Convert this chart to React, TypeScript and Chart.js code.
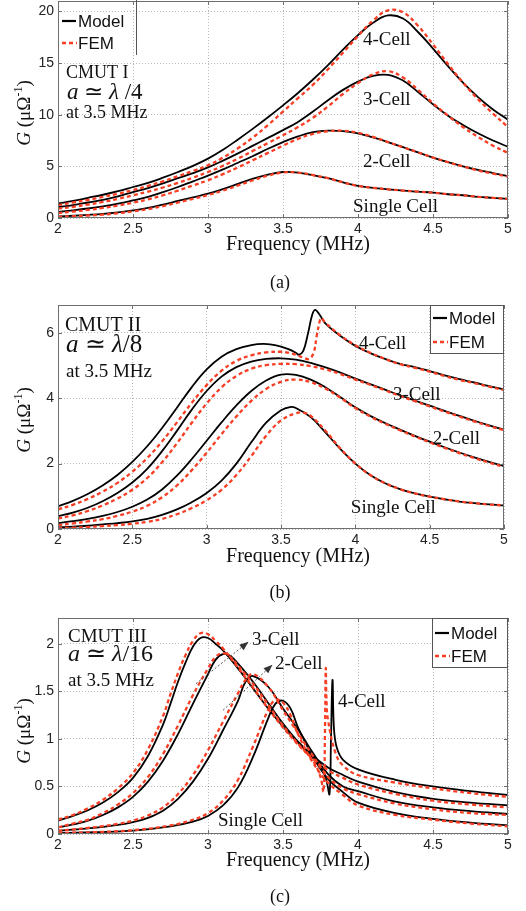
import React, { useEffect, useRef } from "react";
import { Chart, registerables } from "chart.js";
Chart.register(...registerables);

// ---------------- DATA ----------------
const xTickValues = [2, 2.5, 3, 3.5, 4, 4.5, 5];
const yTicksA = [0, 5, 10, 15, 20];
const yTicksB = [0, 2, 4, 6];
const yTicksC = [0, 0.5, 1, 1.5, 2];

// Panel (a) - CMUT I (shared frequency grid, MHz)
const freqA = [2.0, 2.1, 2.2, 2.3, 2.4, 2.5, 2.6, 2.7, 2.8, 2.9, 3.0, 3.1, 3.2, 3.3, 3.4, 3.5, 3.6, 3.7, 3.8, 3.9, 4.0, 4.1, 4.2, 4.3, 4.4, 4.5, 4.6, 4.7, 4.8, 4.9, 5.0];
const gA4Model = [1.4, 1.65, 1.95, 2.25, 2.6, 3.0, 3.4, 3.9, 4.45, 5.05, 5.75, 6.6, 7.6, 8.65, 9.75, 10.9, 12.1, 13.4, 14.8, 16.3, 17.7, 18.9, 19.6, 19.3, 18.0, 16.4, 14.7, 13.1, 11.7, 10.5, 9.5];
const gA4Fem = [1.25, 1.5, 1.75, 2.05, 2.35, 2.7, 3.1, 3.55, 4.05, 4.55, 5.1, 5.85, 6.75, 7.8, 9.0, 10.3, 11.6, 12.9, 14.4, 16.0, 17.6, 19.1, 20.1, 19.9, 18.6, 16.8, 14.9, 13.1, 11.5, 10.1, 8.8];
const gA3Model = [1.05, 1.25, 1.5, 1.75, 2.1, 2.5, 2.9, 3.35, 3.85, 4.35, 4.9, 5.55, 6.25, 7.0, 7.75, 8.5, 9.3, 10.3, 11.4, 12.4, 13.2, 13.75, 13.85, 13.3, 12.2, 11.0, 9.9, 9.0, 8.2, 7.5, 6.9];
const gA3Fem = [0.9, 1.08, 1.3, 1.55, 1.85, 2.2, 2.55, 2.95, 3.4, 3.9, 4.45, 5.05, 5.75, 6.5, 7.25, 8.0, 8.8, 9.7, 10.8, 12.0, 13.05, 13.9, 14.2, 13.6, 12.4, 11.1, 9.9, 8.8, 7.85, 7.0, 6.3];
const gA2Model = [0.58, 0.74, 0.92, 1.13, 1.38, 1.7, 2.05, 2.5, 3.0, 3.55, 4.1, 4.7, 5.35, 6.0, 6.7, 7.35, 7.9, 8.3, 8.45, 8.4, 8.2, 7.8, 7.35, 6.85, 6.35, 5.85, 5.4, 5.0, 4.65, 4.35, 4.05];
const gA2Fem = [0.48, 0.62, 0.78, 0.97, 1.2, 1.48, 1.8, 2.2, 2.65, 3.15, 3.65, 4.25, 4.9, 5.6, 6.3, 7.0, 7.65, 8.15, 8.4, 8.45, 8.25, 7.85, 7.35, 6.85, 6.35, 5.85, 5.4, 5.0, 4.6, 4.3, 4.0];
const gA1Model = [0.16, 0.22, 0.3, 0.4, 0.55, 0.74, 0.98, 1.3, 1.65, 2.0, 2.35, 2.8, 3.3, 3.8, 4.2, 4.45, 4.4, 4.15, 3.85, 3.45, 3.1, 2.92, 2.78, 2.65, 2.55, 2.45, 2.3, 2.2, 2.05, 1.95, 1.85];
const gA1Fem = [0.12, 0.17, 0.24, 0.33, 0.46, 0.63, 0.86, 1.15, 1.5, 1.86, 2.22, 2.65, 3.15, 3.65, 4.1, 4.4, 4.4, 4.15, 3.85, 3.45, 3.1, 2.92, 2.78, 2.65, 2.55, 2.45, 2.3, 2.2, 2.05, 1.95, 1.85];

// Panel (b) - CMUT II
const freqB = [2.0, 2.1, 2.2, 2.3, 2.4, 2.5, 2.6, 2.7, 2.8, 2.9, 3.0, 3.1, 3.2, 3.3, 3.4, 3.5, 3.6, 3.7, 3.8, 3.9, 4.0, 4.1, 4.2, 4.3, 4.4, 4.5, 4.6, 4.7, 4.8, 4.9, 5.0];
const freqB4Model = [2.0, 2.1, 2.2, 2.3, 2.4, 2.5, 2.6, 2.7, 2.8, 2.9, 3.0, 3.1, 3.2, 3.3, 3.38, 3.45, 3.5, 3.55, 3.6, 3.62, 3.65, 3.68, 3.71, 3.73, 3.76, 3.8, 3.9, 4.0, 4.1, 4.2, 4.3, 4.4, 4.5, 4.6, 4.7, 4.8, 4.9, 5.0];
const gB4Model = [0.69, 0.86, 1.07, 1.33, 1.65, 2.05, 2.53, 3.09, 3.71, 4.34, 4.88, 5.27, 5.5, 5.62, 5.66, 5.63, 5.58, 5.5, 5.39, 5.33, 5.45, 5.95, 6.55, 6.7, 6.55, 6.28, 5.9, 5.6, 5.38, 5.2, 5.05, 4.95, 4.83, 4.7, 4.58, 4.48, 4.37, 4.27];
const freqB4Fem = [2.0, 2.1, 2.2, 2.3, 2.4, 2.5, 2.6, 2.7, 2.8, 2.9, 3.0, 3.1, 3.2, 3.3, 3.4, 3.5, 3.55, 3.6, 3.65, 3.69, 3.72, 3.74, 3.76, 3.77, 3.8, 3.9, 4.0, 4.1, 4.2, 4.3, 4.4, 4.5, 4.6, 4.7, 4.8, 4.9, 5.0];
const gB4Fem = [0.6, 0.74, 0.92, 1.14, 1.41, 1.75, 2.17, 2.68, 3.26, 3.86, 4.4, 4.84, 5.14, 5.31, 5.4, 5.42, 5.39, 5.33, 5.24, 5.2, 5.4, 5.9, 6.35, 6.45, 6.3, 5.92, 5.62, 5.39, 5.2, 5.04, 4.93, 4.81, 4.68, 4.56, 4.46, 4.35, 4.25];
const gB3Model = [0.39, 0.5, 0.65, 0.85, 1.1, 1.42, 1.84, 2.38, 3.0, 3.65, 4.22, 4.66, 4.95, 5.12, 5.2, 5.22, 5.18, 5.08, 4.94, 4.78, 4.6, 4.43, 4.26, 4.09, 3.93, 3.77, 3.61, 3.46, 3.31, 3.17, 3.04];
const gB3Fem = [0.32, 0.42, 0.55, 0.72, 0.93, 1.2, 1.56, 2.04, 2.62, 3.25, 3.84, 4.33, 4.68, 4.9, 5.01, 5.05, 5.04, 4.98, 4.88, 4.74, 4.57, 4.41, 4.24, 4.07, 3.91, 3.75, 3.59, 3.44, 3.29, 3.15, 3.02];
const gB2Model = [0.18, 0.24, 0.31, 0.4, 0.52, 0.68, 0.9, 1.21, 1.63, 2.14, 2.7, 3.26, 3.78, 4.22, 4.54, 4.72, 4.71, 4.57, 4.33, 4.03, 3.72, 3.46, 3.24, 3.04, 2.85, 2.67, 2.5, 2.34, 2.19, 2.05, 1.92];
const gB2Fem = [0.12, 0.17, 0.23, 0.3, 0.4, 0.53, 0.71, 0.97, 1.33, 1.8, 2.33, 2.9, 3.44, 3.92, 4.28, 4.5, 4.57, 4.49, 4.29, 4.01, 3.7, 3.44, 3.22, 3.02, 2.83, 2.65, 2.48, 2.32, 2.17, 2.03, 1.9];
const freqB1Model = [2.0, 2.1, 2.2, 2.3, 2.4, 2.5, 2.6, 2.7, 2.8, 2.9, 3.0, 3.1, 3.2, 3.3, 3.4, 3.5, 3.56, 3.6, 3.7, 3.8, 3.9, 4.0, 4.1, 4.2, 4.3, 4.4, 4.5, 4.6, 4.7, 4.8, 4.9, 5.0];
const gB1Model = [0.05, 0.07, 0.1, 0.14, 0.18, 0.23, 0.31, 0.43, 0.6, 0.82, 1.1, 1.48, 2.0, 2.65, 3.25, 3.63, 3.73, 3.7, 3.42, 2.95, 2.44, 2.0, 1.65, 1.4, 1.22, 1.09, 0.99, 0.91, 0.84, 0.79, 0.75, 0.72];
const freqB1Fem = [2.0, 2.1, 2.2, 2.3, 2.4, 2.5, 2.6, 2.7, 2.8, 2.9, 3.0, 3.1, 3.2, 3.3, 3.4, 3.5, 3.6, 3.65, 3.7, 3.8, 3.9, 4.0, 4.1, 4.2, 4.3, 4.4, 4.5, 4.6, 4.7, 4.8, 4.9, 5.0];
const gB1Fem = [0.02, 0.04, 0.06, 0.09, 0.12, 0.16, 0.22, 0.31, 0.45, 0.64, 0.88, 1.2, 1.65, 2.23, 2.85, 3.32, 3.54, 3.56, 3.46, 3.0, 2.46, 2.0, 1.65, 1.4, 1.22, 1.09, 0.99, 0.91, 0.84, 0.79, 0.75, 0.72];

// Panel (c) - CMUT III
const freqC4Model = [2.0, 2.1, 2.2, 2.3, 2.4, 2.5, 2.6, 2.7, 2.75, 2.8, 2.85, 2.9, 2.95, 3.0, 3.05, 3.1, 3.2, 3.3, 3.4, 3.5, 3.6, 3.7, 3.76, 3.79, 3.81, 3.82, 3.83, 3.84, 3.86, 3.9, 4.0, 4.25, 4.5, 4.75, 5.0];
const gC4Model = [0.14, 0.19, 0.25, 0.33, 0.44, 0.59, 0.82, 1.15, 1.37, 1.6, 1.8, 1.97, 2.06, 2.06, 2.0, 1.93, 1.74, 1.53, 1.32, 1.13, 0.96, 0.8, 0.68, 0.56, 0.42, 1.0, 1.62, 1.1, 0.9, 0.78, 0.68, 0.57, 0.5, 0.45, 0.41];
const freqC4Fem = [2.0, 2.1, 2.2, 2.3, 2.4, 2.5, 2.6, 2.7, 2.75, 2.8, 2.85, 2.9, 2.95, 3.0, 3.05, 3.1, 3.2, 3.3, 3.4, 3.5, 3.6, 3.7, 3.75, 3.77, 3.78, 3.785, 3.79, 3.8, 3.85, 3.9, 4.0, 4.25, 4.5, 4.75, 5.0];
const gC4Fem = [0.15, 0.2, 0.27, 0.36, 0.48, 0.64, 0.89, 1.24, 1.47, 1.69, 1.88, 2.03, 2.11, 2.1, 2.03, 1.95, 1.75, 1.54, 1.32, 1.12, 0.94, 0.77, 0.6, 0.45, 1.1, 1.74, 1.4, 1.2, 0.85, 0.72, 0.62, 0.54, 0.48, 0.43, 0.39];
const freqC3 = [2.0, 2.1, 2.2, 2.3, 2.4, 2.5, 2.6, 2.7, 2.8, 2.9, 3.0, 3.05, 3.1, 3.15, 3.2, 3.3, 3.4, 3.5, 3.6, 3.7, 3.8, 3.9, 4.0, 4.25, 4.5, 4.75, 5.0];
const gC3Model = [0.07, 0.1, 0.14, 0.2, 0.28, 0.39, 0.55, 0.77, 1.05, 1.37, 1.68, 1.83, 1.89, 1.87, 1.79, 1.6, 1.38, 1.16, 0.97, 0.82, 0.7, 0.62, 0.55, 0.44, 0.37, 0.33, 0.3];
const gC3Fem = [0.07, 0.11, 0.15, 0.22, 0.31, 0.43, 0.6, 0.84, 1.14, 1.46, 1.74, 1.86, 1.9, 1.86, 1.77, 1.58, 1.36, 1.14, 0.95, 0.79, 0.67, 0.59, 0.52, 0.42, 0.35, 0.31, 0.28];
const freqC2 = [2.0, 2.1, 2.2, 2.3, 2.4, 2.5, 2.6, 2.7, 2.8, 2.9, 3.0, 3.1, 3.2, 3.25, 3.3, 3.4, 3.5, 3.6, 3.7, 3.8, 3.9, 4.0, 4.25, 4.5, 4.75, 5.0];
const gC2Model = [0.035, 0.045, 0.06, 0.075, 0.095, 0.125, 0.17, 0.245, 0.37, 0.55, 0.79, 1.09, 1.4, 1.6, 1.66, 1.55, 1.32, 1.1, 0.85, 0.63, 0.5, 0.45, 0.34, 0.28, 0.24, 0.21];
const gC2Fem = [0.035, 0.048, 0.064, 0.083, 0.107, 0.14, 0.195, 0.28, 0.42, 0.62, 0.88, 1.18, 1.48, 1.62, 1.68, 1.55, 1.3, 1.06, 0.82, 0.6, 0.48, 0.42, 0.32, 0.26, 0.22, 0.2];
const freqC1 = [2.0, 2.25, 2.5, 2.75, 2.9, 3.0, 3.1, 3.2, 3.3, 3.4, 3.45, 3.5, 3.55, 3.6, 3.7, 3.8, 3.9, 4.0, 4.25, 4.5, 4.75, 5.0];
const gC1Model = [0.01, 0.02, 0.035, 0.08, 0.13, 0.19, 0.3, 0.49, 0.81, 1.21, 1.37, 1.4, 1.32, 1.12, 0.81, 0.58, 0.44, 0.33, 0.22, 0.16, 0.12, 0.09];
const gC1Fem = [0.01, 0.02, 0.04, 0.09, 0.15, 0.22, 0.35, 0.57, 0.92, 1.3, 1.41, 1.38, 1.25, 1.05, 0.75, 0.54, 0.41, 0.3, 0.2, 0.15, 0.11, 0.08];

// ---------------- STYLE / LAYOUT ----------------
const SANS = '"Liberation Sans", Arial, sans-serif';
const SERIF = '"Liberation Serif", "Times New Roman", serif';
const RED = "rgb(248,62,36)";
const W = 526;

type Curve = { f: number[]; g: number[]; fem: boolean };
type Part = [string, boolean];
type Info = { parts: Part[]; x: number; y: number; size: number };
type Label = { text: string; x: number; y: number };
type Arrow = { from: [number, number]; to: [number, number] };
type Panel = {
  top: number; height: number;
  area: { left: number; right: number; top: number; bottom: number };
  yMax: number; yTicks: number[]; curves: Curve[];
  info: Info[]; labels: Label[]; arrows: Arrow[];
  legend: { kind: "open" | "box"; x0: number; y0: number; x1: number; y1: number; row1: number; row2: number; lx: number };
  xTitleY: number; captionY: number; caption: string; yTitleY: number;
};

const mk = (f: number[], g: number[], fem: boolean): Curve => ({ f, g, fem });

const panels: Panel[] = [
  {
    top: 0, height: 300,
    area: { left: 58, right: 508, top: 1, bottom: 218 },
    yMax: 21, yTicks: yTicksA,
    curves: [
      mk(freqA, gA4Model, false), mk(freqA, gA4Fem, true),
      mk(freqA, gA3Model, false), mk(freqA, gA3Fem, true),
      mk(freqA, gA2Model, false), mk(freqA, gA2Fem, true),
      mk(freqA, gA1Model, false), mk(freqA, gA1Fem, true),
    ],
    info: [
      { parts: [["CMUT I", false]], x: 66, y: 78, size: 18 },
      { parts: [["a", true], [" ≃ ", false], ["λ", true], [" /4", false]], x: 67, y: 99, size: 23 },
      { parts: [["at 3.5 MHz", false]], x: 66, y: 118, size: 18 },
    ],
    labels: [
      { text: "4-Cell", x: 4.033, y: 16.7 },
      { text: "3-Cell", x: 4.033, y: 10.9 },
      { text: "2-Cell", x: 4.033, y: 4.93 },
      { text: "Single Cell", x: 3.967, y: 0.6 },
    ],
    arrows: [],
    legend: { kind: "open", x0: 58, y0: 0, x1: 136, y1: 55, row1: 21, row2: 43, lx: 62 },
    xTitleY: 245, captionY: 283, caption: "(a)", yTitleY: 113,
  },
  {
    top: 300, height: 310,
    area: { left: 58, right: 504, top: 305, bottom: 529 },
    yMax: 6.85, yTicks: yTicksB,
    curves: [
      mk(freqB4Model, gB4Model, false), mk(freqB4Fem, gB4Fem, true),
      mk(freqB, gB3Model, false), mk(freqB, gB3Fem, true),
      mk(freqB, gB2Model, false), mk(freqB, gB2Fem, true),
      mk(freqB1Model, gB1Model, false), mk(freqB1Fem, gB1Fem, true),
    ],
    info: [
      { parts: [["CMUT II", false]], x: 65, y: 331, size: 20 },
      { parts: [["a", true], [" ≃ ", false], ["λ", true], ["/8", false]], x: 66, y: 352, size: 25 },
      { parts: [["at 3.5 MHz", false]], x: 66, y: 377, size: 19 },
    ],
    labels: [
      { text: "4-Cell", x: 4.024, y: 5.5 },
      { text: "3-Cell", x: 4.253, y: 3.94 },
      { text: "2-Cell", x: 4.52, y: 2.6 },
      { text: "Single Cell", x: 3.97, y: 0.49 },
    ],
    arrows: [],
    legend: { kind: "box", x0: 430, y0: 305, x1: 504, y1: 354, row1: 318, row2: 342, lx: 433 },
    xTitleY: 557, captionY: 593, caption: "(b)", yTitleY: 420,
  },
  {
    top: 610, height: 301,
    area: { left: 58, right: 508, top: 618, bottom: 834 },
    yMax: 2.27, yTicks: yTicksC,
    curves: [
      mk(freqC4Model, gC4Model, false), mk(freqC4Fem, gC4Fem, true),
      mk(freqC3, gC3Model, false), mk(freqC3, gC3Fem, true),
      mk(freqC2, gC2Model, false), mk(freqC2, gC2Fem, true),
      mk(freqC1, gC1Model, false), mk(freqC1, gC1Fem, true),
    ],
    info: [
      { parts: [["CMUT III", false]], x: 68, y: 642, size: 19 },
      { parts: [["a", true], [" ≃ ", false], ["λ", true], ["/16", false]], x: 68, y: 661, size: 24 },
      { parts: [["at 3.5 MHz", false]], x: 68, y: 686, size: 19 },
    ],
    labels: [
      { text: "3-Cell", x: 3.293, y: 1.99 },
      { text: "2-Cell", x: 3.447, y: 1.73 },
      { text: "4-Cell", x: 3.867, y: 1.33 },
      { text: "Single Cell", x: 3.067, y: 0.08 },
    ],
    arrows: [
      { from: [2.92, 1.58], to: [3.27, 2.02] },
      { from: [3.1, 1.3], to: [3.43, 1.78] },
    ],
    legend: { kind: "box", x0: 432, y0: 618, x1: 508, y1: 668, row1: 633, row2: 656, lx: 435 },
    xTitleY: 861, captionY: 897, caption: "(c)", yTitleY: 731,
  },
];

function drawRich(ctx: CanvasRenderingContext2D, parts: Part[], x: number, y: number, size: number) {
  let cx = x;
  for (const [t, it] of parts) {
    ctx.font = `${it ? "italic " : ""}${size}px ${SERIF}`;
    ctx.fillText(t, cx, y);
    cx += ctx.measureText(t).width;
  }
}

function makePlugin(p: Panel) {
  return {
    id: "decor",
    afterDraw(chart: any) {
      const ctx: CanvasRenderingContext2D = chart.ctx;
      const xs = chart.scales.x;
      const ys = chart.scales.y;
      const { left, right, top, bottom } = chart.chartArea;
      const off = p.top;
      ctx.save();
      // box
      ctx.strokeStyle = "#6f6f6f";
      ctx.lineWidth = 1;
      ctx.setLineDash([]);
      ctx.strokeRect(left + 0.5, top + 0.5, right - left - 1, bottom - top - 1);
      // inward tick marks
      ctx.beginPath();
      for (const v of xTickValues) {
        const px = Math.round(xs.getPixelForValue(v)) + 0.5;
        ctx.moveTo(px, bottom); ctx.lineTo(px, bottom - 4);
        ctx.moveTo(px, top); ctx.lineTo(px, top + 4);
      }
      for (const v of p.yTicks) {
        const py = Math.round(ys.getPixelForValue(v)) + 0.5;
        ctx.moveTo(left, py); ctx.lineTo(left + 4, py);
        ctx.moveTo(right, py); ctx.lineTo(right - 4, py);
      }
      ctx.stroke();

      // arrows
      for (const a of p.arrows) {
        const x0 = xs.getPixelForValue(a.from[0]);
        const y0 = ys.getPixelForValue(a.from[1]);
        const x1 = xs.getPixelForValue(a.to[0]);
        const y1 = ys.getPixelForValue(a.to[1]);
        ctx.strokeStyle = "#555";
        ctx.lineWidth = 1;
        ctx.setLineDash([2, 2]);
        ctx.beginPath(); ctx.moveTo(x0, y0); ctx.lineTo(x1, y1); ctx.stroke();
        ctx.setLineDash([]);
        const ang = Math.atan2(y1 - y0, x1 - x0);
        ctx.fillStyle = "#333";
        ctx.beginPath();
        ctx.moveTo(x1, y1);
        ctx.lineTo(x1 - 9 * Math.cos(ang) + 3.5 * Math.sin(ang), y1 - 9 * Math.sin(ang) - 3.5 * Math.cos(ang));
        ctx.lineTo(x1 - 9 * Math.cos(ang) - 3.5 * Math.sin(ang), y1 - 9 * Math.sin(ang) + 3.5 * Math.cos(ang));
        ctx.closePath(); ctx.fill();
      }

      // info text
      ctx.fillStyle = "#111";
      ctx.textBaseline = "alphabetic";
      ctx.textAlign = "left";
      for (const t of p.info) drawRich(ctx, t.parts, t.x, t.y - off, t.size);
      // curve labels
      ctx.font = `19px ${SERIF}`;
      for (const l of p.labels) {
        ctx.fillText(l.text, xs.getPixelForValue(l.x), ys.getPixelForValue(l.y));
      }

      // legend
      const L = p.legend;
      if (L.kind === "box") {
        ctx.fillStyle = "#fff";
        ctx.fillRect(L.x0, L.y0 - off, L.x1 - L.x0, L.y1 - L.y0);
        ctx.strokeStyle = "#555";
        ctx.lineWidth = 1;
        ctx.strokeRect(L.x0 + 0.5, L.y0 - off + 0.5, L.x1 - L.x0 - 1, L.y1 - L.y0 - 1);
      } else {
        ctx.strokeStyle = "#555";
        ctx.lineWidth = 1;
        ctx.beginPath(); ctx.moveTo(L.x1 + 0.5, L.y0 - off); ctx.lineTo(L.x1 + 0.5, L.y1 - off); ctx.stroke();
      }
      ctx.lineWidth = 2.2;
      ctx.strokeStyle = "#000";
      ctx.setLineDash([]);
      ctx.beginPath(); ctx.moveTo(L.lx, L.row1 - off); ctx.lineTo(L.lx + 14, L.row1 - off); ctx.stroke();
      ctx.strokeStyle = RED;
      ctx.lineWidth = 2.5;
      ctx.setLineDash([4, 3]);
      ctx.beginPath(); ctx.moveTo(L.lx, L.row2 - off); ctx.lineTo(L.lx + 15, L.row2 - off); ctx.stroke();
      ctx.setLineDash([]);
      ctx.fillStyle = "#111";
      ctx.font = `17px ${SANS}`;
      ctx.textBaseline = "middle";
      ctx.fillText("Model", L.lx + 16, L.row1 - off + 1);
      ctx.fillText("FEM", L.lx + 16, L.row2 - off + 1);

      // x title and caption
      ctx.textAlign = "center";
      ctx.font = `20px ${SERIF}`;
      ctx.fillText("Frequency (MHz)", 298, p.xTitleY - off);
      ctx.font = `18px ${SERIF}`;
      ctx.fillText(p.caption, 280, p.captionY - off);

      // y title (rotated)
      ctx.save();
      ctx.translate(25, p.yTitleY - off);
      ctx.rotate(-Math.PI / 2);
      ctx.textAlign = "left";
      ctx.textBaseline = "middle";
      const segs: { t: string; font: string; dy: number }[] = [
        { t: "G", font: `italic 19px ${SERIF}`, dy: 0 },
        { t: " (μΩ", font: `19px ${SERIF}`, dy: 0 },
        { t: "-1", font: `12px ${SERIF}`, dy: -6 },
        { t: ")", font: `19px ${SERIF}`, dy: 0 },
      ];
      let total = 0;
      for (const s of segs) { ctx.font = s.font; total += ctx.measureText(s.t).width; }
      let cx = -total / 2;
      for (const s of segs) {
        ctx.font = s.font;
        ctx.fillText(s.t, cx, s.dy);
        cx += ctx.measureText(s.t).width;
      }
      ctx.restore();
      ctx.restore();
    },
  };
}

function PanelChart({ p }: { p: Panel }) {
  const ref = useRef<HTMLCanvasElement | null>(null);
  useEffect(() => {
    if (!ref.current) return;
    const xAxisH = 20;
    const padTop = p.area.top - p.top;
    const padBottom = p.height - (p.area.bottom - p.top) - xAxisH;
    const chart = new Chart(ref.current, {
      type: "line",
      data: {
        datasets: p.curves.map((c) => ({
          data: c.f.map((x, i) => ({ x, y: c.g[i] })),
          borderColor: c.fem ? RED : "#000",
          borderWidth: c.fem ? 2.3 : 1.8,
          borderDash: c.fem ? [4, 3] : [],
          pointRadius: 0,
          fill: false,
          tension: 0.4,
          cubicInterpolationMode: "default",
          order: c.fem ? 0 : 1,
        })),
      },
      options: {
        animation: false,
        responsive: false,
        devicePixelRatio: 1,
        layout: { padding: { left: 0, right: W - p.area.right, top: padTop, bottom: padBottom } },
        plugins: { legend: { display: false }, tooltip: { enabled: false } },
        scales: {
          x: {
            type: "linear", min: 2, max: 5,
            afterBuildTicks: (s: any) => { s.ticks = xTickValues.map((v) => ({ value: v })); },
            afterFit: (s: any) => { s.height = xAxisH; s.paddingLeft = 0; s.paddingRight = 0; },
            ticks: { font: { family: SANS, size: 14 }, color: "#222", padding: 3, maxRotation: 0, autoSkip: false, callback: (v: any) => String(v) },
            grid: { color: "rgba(0,0,0,0.28)", lineWidth: 1, drawTicks: false },
            border: { display: false, dash: [1, 2] },
          },
          y: {
            type: "linear", min: 0, max: p.yMax,
            afterBuildTicks: (s: any) => { s.ticks = p.yTicks.map((v) => ({ value: v })); },
            afterFit: (s: any) => { s.width = p.area.left; s.paddingTop = 0; s.paddingBottom = 0; },
            ticks: { font: { family: SANS, size: 14 }, color: "#222", padding: 4, autoSkip: false, callback: (v: any) => String(v) },
            grid: { color: "rgba(0,0,0,0.28)", lineWidth: 1, drawTicks: false },
            border: { display: false, dash: [1, 2] },
          },
        },
      },
      plugins: [makePlugin(p)],
    } as any);
    return () => chart.destroy();
  }, [p]);
  return (
    <canvas
      ref={ref}
      width={W}
      height={p.height}
      style={{ position: "absolute", left: 0, top: p.top, width: W, height: p.height }}
    />
  );
}

export default function App() {
  return (
    <div style={{ position: "absolute", left: 0, top: 0, width: W, height: 911, background: "#fff", overflow: "hidden" }}>
      {panels.map((p, i) => (
        <PanelChart key={i} p={p} />
      ))}
    </div>
  );
}
